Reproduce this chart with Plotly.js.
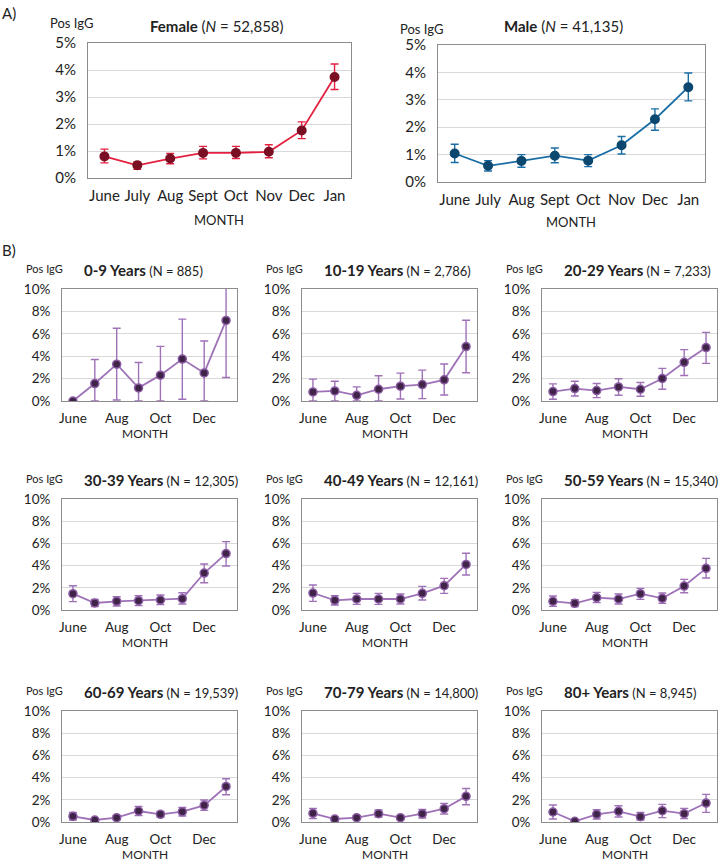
<!DOCTYPE html>
<html><head><meta charset="utf-8">
<script src="https://cdn.plot.ly/plotly-3.0.1.min.js"></script>
<style>html,body{margin:0;padding:0;background:#fff}#chart{width:720px;height:861px}</style>
</head><body><div id="chart"></div><script>
// ---------- data (percent positive IgG) ----------
const months = ['June','July','Aug','Sept','Oct','Nov','Dec','Jan'];
const shortTicks = ['June','Aug','Oct','Dec'];

const femaleVal = [0.80,0.47,0.72,0.93,0.93,0.97,1.76,3.74];
const femaleHi  = [1.07,0.59,0.91,1.17,1.17,1.23,2.08,4.22];
const femaleLo  = [0.56,0.32,0.53,0.71,0.72,0.75,1.46,3.28];

const maleVal = [1.04,0.59,0.77,0.96,0.78,1.34,2.29,3.46];
const maleHi  = [1.38,0.78,1.00,1.24,1.00,1.66,2.67,3.98];
const maleLo  = [0.71,0.40,0.54,0.70,0.56,1.02,1.89,2.96];

const age09Val = [0.00,1.56,3.29,1.17,2.31,3.74,2.51,7.19];
const age09Hi  = [0.00,3.71,6.50,3.44,4.88,7.31,5.36,10.8];
const age09Lo  = [0.00,0.00,0.09,0.00,0.00,0.15,0.00,2.10];

const age1019Val = [0.81,0.90,0.51,1.05,1.32,1.47,1.89,4.86];
const age1019Hi  = [1.95,1.77,1.26,2.25,2.49,2.76,3.30,7.21];
const age1019Lo  = [0.00,0.00,0.00,0.00,0.18,0.21,0.54,2.52];

const age2029Val = [0.84,1.11,0.93,1.26,1.05,2.01,3.45,4.77];
const age2029Hi  = [1.53,1.77,1.56,1.98,1.65,2.91,4.59,6.13];
const age2029Lo  = [0.15,0.45,0.30,0.51,0.42,1.05,2.28,3.36];

const age3039Val = [1.47,0.63,0.78,0.84,0.90,1.02,3.33,5.08];
const age3039Hi  = [2.19,0.96,1.20,1.29,1.35,1.56,4.14,6.16];
const age3039Lo  = [0.75,0.30,0.36,0.39,0.48,0.54,2.46,3.96];

const age4049Val = [1.53,0.87,0.99,0.99,0.99,1.50,2.19,4.11];
const age4049Hi  = [2.25,1.29,1.50,1.50,1.44,2.13,2.85,5.11];
const age4049Lo  = [0.78,0.45,0.51,0.51,0.54,0.90,1.50,3.15];

const age5059Val = [0.78,0.60,1.11,0.99,1.47,1.05,2.16,3.75];
const age5059Hi  = [1.26,0.93,1.59,1.44,1.95,1.53,2.76,4.65];
const age5059Lo  = [0.33,0.30,0.66,0.54,0.96,0.60,1.56,2.88];

const age6069Val = [0.51,0.18,0.39,0.99,0.69,0.93,1.50,3.20];
const age6069Hi  = [0.87,0.30,0.60,1.41,0.96,1.32,1.98,3.89];
const age6069Lo  = [0.18,0.06,0.18,0.57,0.45,0.54,1.05,2.46];

const age7079Val = [0.78,0.27,0.39,0.75,0.39,0.75,1.20,2.31];
const age7079Hi  = [1.23,0.42,0.57,1.08,0.57,1.14,1.68,3.02];
const age7079Lo  = [0.30,0.12,0.21,0.45,0.21,0.36,0.72,1.56];

const age80Val = [0.90,0.06,0.69,0.96,0.48,1.02,0.75,1.71];
const age80Hi  = [1.53,0.15,1.11,1.47,0.87,1.59,1.23,2.49];
const age80Lo  = [0.27,0.00,0.27,0.45,0.18,0.39,0.30,0.87];

const ageGroups = ['0-9 Years','10-19 Years','20-29 Years','30-39 Years','40-49 Years','50-59 Years','60-69 Years','70-79 Years','80+ Years'];
const ageN = ['885','2,786','7,233','12,305','12,161','15,340','19,539','14,800','8,945'];
const ageSeries = [
  [age09Val,age09Hi,age09Lo],[age1019Val,age1019Hi,age1019Lo],[age2029Val,age2029Hi,age2029Lo],
  [age3039Val,age3039Hi,age3039Lo],[age4049Val,age4049Hi,age4049Lo],[age5059Val,age5059Hi,age5059Lo],
  [age6069Val,age6069Hi,age6069Lo],[age7079Val,age7079Hi,age7079Lo],[age80Val,age80Hi,age80Lo]
];

// ---------- layout helpers ----------
const W = 720, H = 861;
const FONT = 'Lato, "Open Sans", sans-serif';
const px = v => v / W;
const py = v => 1 - v / H;
const BOX = '#8c8c8c', GRID = '#d9d9d9';

const traces = [];
const layout = {
  width: W, height: H, margin: {l:0,r:0,t:0,b:0},
  paper_bgcolor: '#fff', plot_bgcolor: '#fff', showlegend: false,
  font: {family: FONT, color: '#222'},
  annotations: []
};

function addAxes(idx, x0, x1, y0, y1, ymax, dtick, tickSize, tickvals, xtl) {
  const xa = idx === 1 ? 'xaxis' : 'xaxis' + idx;
  const ya = idx === 1 ? 'yaxis' : 'yaxis' + idx;
  layout[xa] = {
    domain: [px(x0), px(x1)], anchor: 'y' + (idx === 1 ? '' : idx),
    type: 'category', range: [-0.5, 7.5], categoryorder: 'array', categoryarray: months,
    tickvals: tickvals, showgrid: false, zeroline: false,
    showline: true, mirror: true, linecolor: BOX, linewidth: 1,
    ticks: 'outside', ticklen: xtl, tickcolor: 'rgba(0,0,0,0)',
    tickfont: {size: tickSize, family: FONT, color: '#222'}, fixedrange: true
  };
  layout[ya] = {
    domain: [py(y1), py(y0)], anchor: 'x' + (idx === 1 ? '' : idx),
    range: [0, ymax], dtick: dtick, ticksuffix: '%',
    showgrid: true, gridcolor: GRID, gridwidth: 1, zeroline: false,
    showline: true, mirror: true, linecolor: BOX, linewidth: 1,
    ticks: 'outside', ticklen: 8, tickcolor: 'rgba(0,0,0,0)',
    tickfont: {size: tickSize, family: FONT, color: '#222'}, fixedrange: true
  };
}

function addSeries(idx, vals, hi, lo, lineColor, markColor, markLine, mSize, errW) {
  traces.push({
    type: 'scatter', mode: 'lines+markers', x: months, y: vals,
    xaxis: 'x' + (idx === 1 ? '' : idx), yaxis: 'y' + (idx === 1 ? '' : idx),
    line: {color: lineColor, width: 1.8},
    marker: {color: markColor, size: mSize, line: {color: markLine, width: 1.5}},
    cliponaxis: true,
    error_y: {type: 'data', symmetric: false,
      array: hi.map((h, i) => h - vals[i]), arrayminus: lo.map((l, i) => vals[i] - l),
      color: lineColor, thickness: 1.4, width: errW}
  });
}

function ann(text, x, y, size, xanchor, extra) {
  layout.annotations.push(Object.assign({
    text: text, x: px(x), y: py(y), xref: 'paper', yref: 'paper',
    xanchor: xanchor || 'center', yanchor: 'middle', showarrow: false,
    font: {size: size, family: FONT, color: '#222'}
  }, extra || {}));
}

// ---------- panel A ----------
addAxes(1, 88, 351, 43, 178, 5, 1, 15, months, 4);
addSeries(1, femaleVal, femaleHi, femaleLo, '#e3203f', '#7a0f24', '#7a0f24', 8.5, 4);
addAxes(2, 438, 705, 45, 182, 5, 1, 15, months, 4);
addSeries(2, maleVal, maleHi, maleLo, '#1a6ea5', '#0b476e', '#0b476e', 8.5, 4);

ann('A)', 0, 13, 15, 'left');
ann('Pos IgG', 48, 23, 13, 'left');
ann('Pos IgG', 398, 29, 13, 'left');
ann('<b>Female</b> (<i>N</i> = 52,858)', 217, 26, 15, 'center');
ann('<b>Male</b> (<i>N</i> = 41,135)', 563, 26, 15, 'center');
ann('MONTH', 219, 220, 13, 'center');
ann('MONTH', 571, 222, 13, 'center');

// ---------- panel B ----------
ann('B)', 0, 250, 15, 'left');
const colX = [[62, 237], [302, 477], [542, 717]];
const rowY = [[289, 401], [499, 610], [711, 822]];
for (let k = 0; k < 9; k++) {
  const c = k % 3, r = Math.floor(k / 3), idx = k + 3;
  const [x0, x1] = colX[c], [y0, y1] = rowY[r];
  addAxes(idx, x0, x1, y0, y1, 10, 2, 13.5, shortTicks, 5);
  const s = ageSeries[k];
  addSeries(idx, s[0], s[1], s[2], '#9f72b8', '#3f2447', '#8a5aa3', 8, 4);
  ann('Pos IgG', x0 - 38, y0 - 21, 11, 'left');
  ann('<b>' + ageGroups[k] + '</b><span style="font-size:13px"> (N = ' + ageN[k] + ')</span>',
      x0 + 20, y0 - 19, 15, 'left');
  ann('MONTH', (x0 + x1) / 2 - 5, y1 + 32, 12, 'center');
}

Plotly.newPlot('chart', traces, layout, {staticPlot: true, displayModeBar: false});
</script></body></html>
